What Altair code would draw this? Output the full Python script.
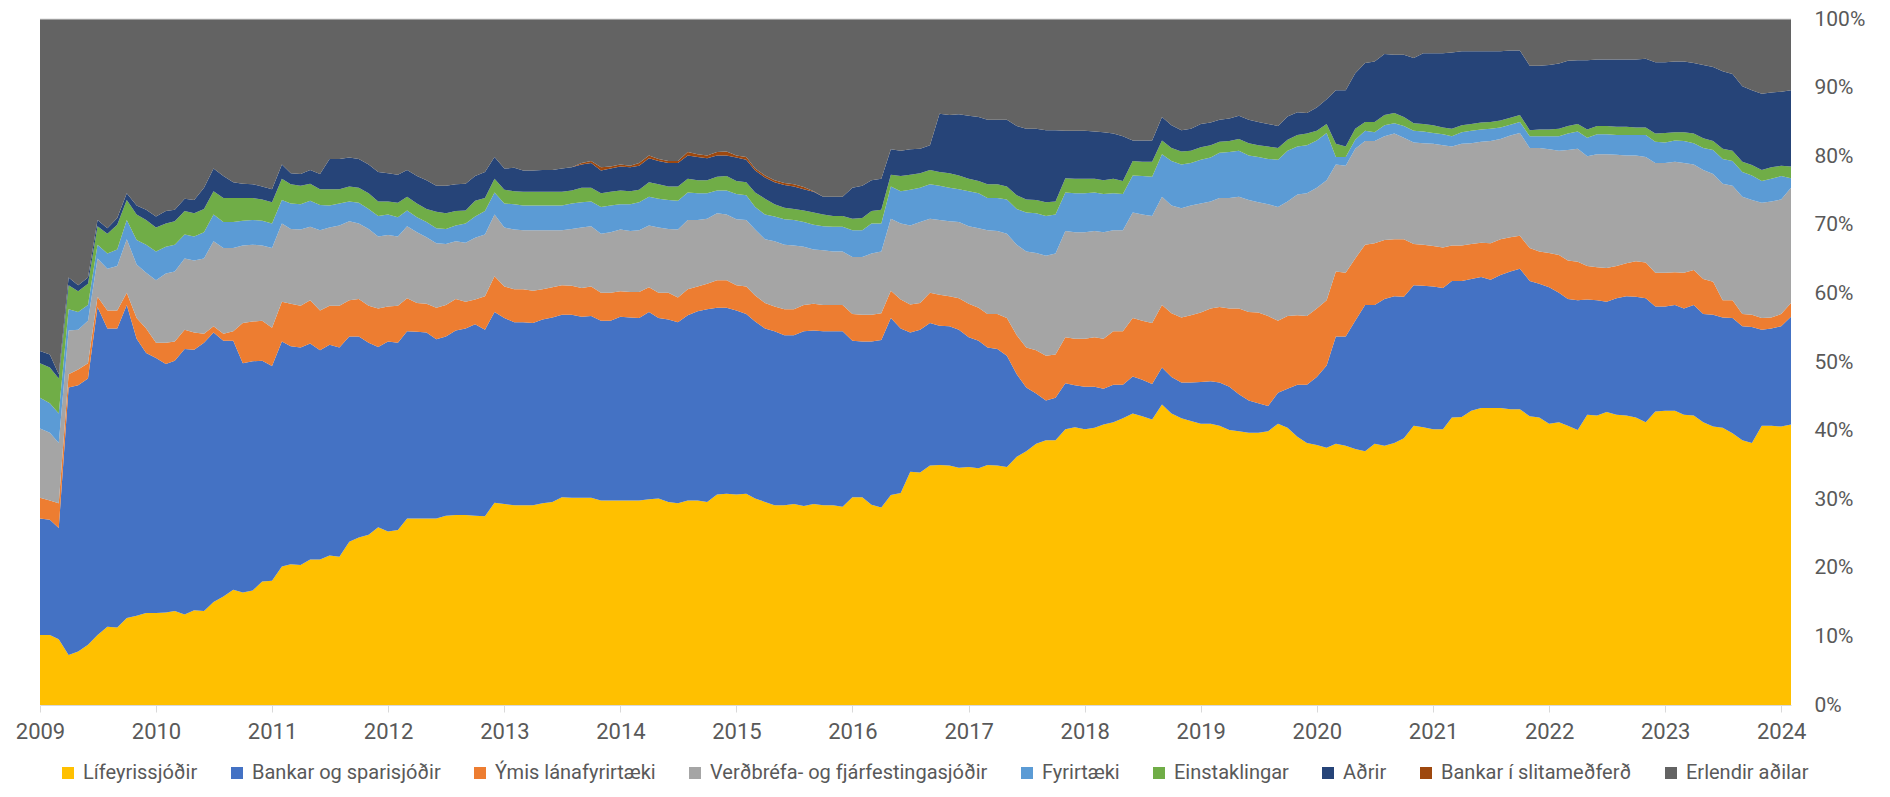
import altair as alt
import numpy as np
import pandas as pd

# ---------------- data (shares of holdings, %, monthly Jan 2009 - Feb 2024) ----------------
series_names = [
    "Lífeyrissjóðir",
    "Bankar og sparisjóðir",
    "Ýmis lánafyrirtæki",
    "Verðbréfa- og fjárfestingasjóðir",
    "Fyrirtæki",
    "Einstaklingar",
    "Aðrir",
    "Bankar í slitameðferð",
    "Erlendir aðilar",
]
series_colors = ["#FFC000", "#4472C4", "#ED7D31", "#A5A5A5", "#5B9BD5",
                 "#70AD47", "#264478", "#9E480E", "#636363"]

n_months = 182
months = pd.date_range("2009-01-01", periods=n_months, freq="MS")

# Cumulative level (top edge of each band, %)
top_lif = [
    10.2, 10.2, 9.6, 7.3, 7.8, 8.8, 10.2, 11.4, 11.3, 12.7, 13.0, 13.4, 13.4, 13.5, 13.7, 13.2, 13.8, 13.7, 15.0, 15.8, 16.8, 16.4, 16.7, 18.0, 18.1, 20.2, 20.5, 20.4, 21.2, 21.2,
    21.8, 21.6, 23.8, 24.4, 24.8, 25.9, 25.3, 25.5, 27.2, 27.2, 27.2, 27.2, 27.6, 27.7, 27.7, 27.6, 27.5, 29.5, 29.3, 29.1, 29.1, 29.1, 29.4, 29.6, 30.3, 30.2, 30.2, 30.2, 29.8, 29.8,
    29.8, 29.8, 29.8, 30.0, 30.1, 29.6, 29.4, 29.8, 29.8, 29.6, 30.7, 30.8, 30.7, 30.8, 30.1, 29.6, 29.1, 29.1, 29.3, 29.0, 29.3, 29.1, 29.1, 28.9, 30.3, 30.3, 29.2, 28.8, 30.6, 30.9,
    34.0, 33.9, 34.9, 35.0, 34.9, 34.6, 34.7, 34.5, 35.0, 34.9, 34.7, 36.2, 37.0, 38.1, 38.6, 38.6, 40.2, 40.5, 40.2, 40.4, 40.9, 41.2, 41.8, 42.5, 42.1, 41.6, 43.8, 42.5, 41.8, 41.4,
    41.0, 41.0, 40.7, 40.1, 39.9, 39.7, 39.7, 39.9, 41.0, 40.4, 39.1, 38.2, 37.9, 37.5, 38.1, 37.8, 37.3, 37.0, 38.1, 37.8, 38.2, 38.9, 40.7, 40.5, 40.2, 40.2, 41.9, 42.0, 42.9, 43.3,
    43.3, 43.3, 43.1, 43.1, 42.1, 41.9, 41.0, 41.2, 40.7, 40.1, 42.3, 42.2, 42.7, 42.3, 42.2, 41.9, 41.2, 42.8, 42.9, 42.9, 42.3, 42.2, 41.2, 40.6, 40.4, 39.6, 38.6, 38.2, 40.7, 40.7, 40.6, 40.9,
]
top_bank = [
    27.2, 27.0, 25.8, 46.3, 46.6, 47.6, 58.0, 54.9, 54.9, 58.3, 53.4, 51.3, 50.6, 49.7, 50.2, 51.9, 51.8, 52.8, 54.3, 53.1, 53.1, 49.8, 50.1, 50.2, 49.4, 53.0, 52.3, 52.1, 52.7, 51.7,
    52.5, 52.1, 53.7, 53.7, 52.8, 52.2, 53.0, 52.8, 54.5, 54.4, 54.3, 53.3, 53.7, 54.6, 54.9, 55.5, 54.7, 57.3, 56.4, 55.8, 55.8, 55.7, 56.2, 56.5, 56.9, 56.9, 56.6, 56.7, 56.0, 56.0,
    56.6, 56.5, 56.4, 57.3, 56.4, 56.2, 55.8, 56.8, 57.4, 57.7, 57.9, 57.9, 57.5, 57.0, 55.9, 54.9, 54.5, 53.9, 53.9, 54.5, 54.6, 54.5, 54.5, 54.5, 53.1, 53.0, 53.0, 53.2, 56.4, 54.9,
    54.3, 54.7, 55.7, 55.3, 55.2, 54.7, 53.6, 53.1, 52.1, 51.9, 50.9, 48.2, 46.3, 45.4, 44.4, 44.8, 46.9, 46.6, 46.4, 46.4, 46.1, 46.7, 46.7, 47.9, 47.4, 46.8, 49.2, 47.8, 47.0, 47.0,
    47.1, 47.2, 47.0, 46.4, 45.3, 44.4, 44.0, 43.6, 45.5, 46.1, 46.7, 46.7, 47.8, 49.5, 53.7, 53.7, 56.0, 58.3, 58.3, 59.2, 59.6, 59.5, 61.2, 61.1, 61.0, 60.8, 61.8, 61.8, 62.1, 62.4,
    62.0, 62.7, 63.2, 63.6, 61.8, 61.4, 60.9, 60.1, 59.2, 59.0, 59.1, 59.0, 58.8, 59.3, 59.6, 59.5, 59.3, 58.1, 58.1, 58.3, 57.8, 58.3, 57.0, 56.9, 56.5, 56.4, 55.2, 55.1, 54.7, 54.9, 55.2, 56.6,
]
top_ymis = [
    30.2, 29.8, 29.4, 48.2, 48.9, 49.8, 59.5, 57.5, 57.5, 60.1, 56.4, 54.9, 52.8, 52.8, 53.0, 54.7, 54.3, 54.1, 55.2, 54.1, 54.5, 55.7, 55.9, 56.0, 55.0, 58.8, 58.5, 58.2, 59.0, 57.5,
    58.2, 58.2, 59.0, 59.2, 58.2, 57.8, 58.1, 58.2, 59.3, 58.6, 58.5, 57.9, 58.3, 59.2, 58.8, 59.1, 59.6, 62.5, 61.0, 60.6, 60.6, 60.4, 60.6, 60.9, 61.2, 61.1, 60.8, 61.0, 60.1, 60.1,
    60.3, 60.2, 60.2, 60.9, 60.1, 60.1, 59.4, 60.6, 61.0, 61.4, 61.9, 61.9, 61.2, 61.0, 59.7, 58.6, 58.1, 57.7, 57.7, 58.3, 58.5, 58.3, 58.3, 58.3, 57.0, 56.9, 56.9, 57.1, 60.4, 59.1,
    58.4, 58.6, 60.1, 59.8, 59.6, 59.3, 58.5, 57.9, 57.0, 57.0, 56.4, 53.9, 52.1, 51.7, 50.9, 51.1, 53.6, 53.4, 53.4, 53.6, 53.4, 54.5, 54.5, 56.4, 56.0, 55.7, 58.3, 57.1, 56.5, 56.8,
    57.2, 57.8, 58.0, 57.8, 57.8, 57.3, 57.2, 56.7, 56.0, 56.7, 56.8, 56.7, 57.8, 59.0, 63.2, 63.0, 65.1, 67.1, 67.3, 67.8, 67.9, 67.9, 67.2, 67.1, 66.9, 66.7, 67.0, 67.0, 67.2, 67.4,
    67.3, 67.9, 68.2, 68.4, 66.6, 66.1, 65.9, 65.6, 64.8, 64.6, 64.0, 63.8, 63.7, 64.0, 64.4, 64.7, 64.5, 63.0, 63.0, 63.1, 63.0, 63.4, 62.1, 61.7, 59.0, 59.0, 57.0, 56.9, 56.4, 56.5, 57.0, 58.6,
]
top_verd = [
    40.3, 39.7, 38.2, 54.6, 54.7, 56.0, 65.1, 63.6, 64.0, 67.9, 64.2, 63.0, 61.9, 62.9, 63.2, 65.1, 64.8, 65.1, 67.6, 66.6, 66.6, 67.0, 67.1, 67.0, 66.6, 70.2, 69.4, 69.3, 69.7, 69.2,
    69.6, 69.9, 70.5, 70.2, 69.4, 68.3, 68.5, 68.3, 69.8, 68.9, 68.2, 67.3, 67.2, 67.6, 67.4, 68.1, 68.6, 71.5, 69.6, 69.3, 69.2, 69.2, 69.2, 69.2, 69.2, 69.4, 69.6, 69.8, 68.7, 68.9,
    69.3, 69.1, 69.2, 69.9, 69.6, 69.4, 69.3, 70.7, 70.7, 70.9, 71.7, 71.5, 70.8, 70.7, 69.3, 67.9, 67.6, 67.1, 67.0, 66.8, 66.4, 66.3, 66.1, 66.1, 65.3, 65.3, 65.8, 66.1, 70.9, 70.2,
    69.9, 70.4, 70.9, 70.7, 70.5, 70.4, 69.8, 69.5, 69.2, 69.1, 68.7, 67.1, 66.1, 65.9, 65.5, 65.8, 69.1, 68.9, 68.9, 69.1, 68.9, 69.2, 69.2, 71.8, 71.5, 71.3, 74.1, 72.8, 72.4, 72.8,
    73.1, 73.4, 73.9, 73.9, 74.1, 73.6, 73.3, 73.0, 72.6, 73.4, 74.4, 74.6, 75.4, 76.5, 78.8, 78.6, 81.1, 82.2, 82.2, 82.9, 83.3, 82.7, 82.0, 81.9, 81.8, 81.6, 81.4, 81.8, 81.9, 82.1,
    82.2, 82.5, 83.0, 83.4, 81.2, 81.2, 81.0, 80.8, 80.9, 81.1, 80.0, 80.3, 80.3, 80.2, 80.1, 80.1, 79.9, 79.0, 79.0, 79.2, 79.0, 78.8, 78.0, 77.4, 76.0, 75.7, 74.1, 73.6, 73.2, 73.4, 73.7, 75.4,
]
top_fyr = [
    44.8, 44.0, 42.5, 57.7, 57.3, 58.3, 67.1, 65.8, 66.4, 70.7, 67.8, 67.1, 66.1, 66.8, 67.1, 68.6, 68.3, 68.9, 71.5, 70.4, 70.4, 70.6, 70.7, 70.6, 70.2, 73.6, 73.1, 73.0, 73.5, 72.9,
    72.8, 73.1, 73.4, 73.2, 72.3, 71.3, 71.5, 71.1, 72.1, 71.1, 70.4, 69.5, 69.4, 69.9, 70.2, 71.2, 72.0, 74.7, 73.1, 73.0, 72.8, 72.8, 72.8, 72.8, 72.8, 73.1, 73.3, 73.4, 72.6, 72.8,
    73.0, 73.0, 73.3, 74.1, 73.8, 73.6, 73.5, 74.7, 74.6, 74.6, 75.0, 75.0, 74.5, 74.3, 72.6, 71.5, 71.2, 70.8, 70.7, 70.4, 70.0, 69.8, 69.7, 69.7, 69.2, 69.2, 70.2, 70.2, 75.6, 74.9,
    75.1, 75.4, 75.9, 75.7, 75.4, 75.2, 74.9, 74.6, 73.9, 73.9, 73.7, 72.3, 71.8, 71.7, 71.3, 71.5, 74.7, 74.6, 74.6, 74.7, 74.5, 74.6, 74.5, 77.2, 77.1, 77.0, 80.3, 79.3, 78.8, 79.0,
    79.5, 79.8, 80.5, 80.6, 80.8, 80.1, 79.9, 79.6, 79.5, 80.8, 81.4, 81.6, 82.3, 83.4, 79.9, 79.9, 82.4, 83.7, 83.5, 84.5, 84.8, 84.4, 83.7, 83.6, 83.4, 83.2, 82.9, 83.5, 83.7, 83.9,
    84.0, 84.2, 84.6, 85.0, 82.9, 82.9, 82.9, 82.9, 83.3, 83.6, 82.7, 83.2, 83.2, 83.1, 83.1, 83.1, 83.1, 82.1, 82.0, 82.3, 82.2, 81.9, 81.2, 80.9, 79.6, 79.3, 77.7, 77.2, 76.4, 76.7, 77.1, 76.8,
]
top_einst = [
    49.8, 49.2, 47.6, 61.2, 60.3, 61.4, 69.8, 68.7, 70.0, 73.6, 71.5, 70.7, 69.6, 70.2, 70.5, 72.0, 71.7, 72.3, 74.9, 73.9, 73.9, 73.9, 73.9, 73.7, 73.3, 76.7, 75.9, 75.7, 76.0, 75.2,
    75.2, 75.2, 75.6, 75.4, 74.6, 73.4, 73.4, 73.2, 74.1, 73.1, 72.3, 71.9, 71.7, 72.0, 72.1, 73.5, 73.9, 76.7, 75.1, 74.9, 74.8, 74.8, 74.8, 74.8, 74.8, 75.0, 75.4, 75.4, 74.6, 74.8,
    75.0, 74.9, 75.1, 76.2, 75.9, 75.6, 75.6, 76.7, 76.5, 76.5, 77.0, 77.1, 76.4, 76.2, 74.7, 73.8, 73.0, 72.5, 72.3, 72.1, 71.8, 71.5, 71.3, 71.3, 70.9, 71.0, 72.0, 72.2, 77.3, 77.1,
    77.3, 77.5, 78.0, 77.7, 77.5, 77.2, 76.7, 76.4, 75.9, 75.9, 75.6, 74.3, 73.7, 73.6, 73.3, 73.4, 76.8, 76.7, 76.7, 76.7, 76.5, 76.7, 76.4, 79.3, 79.2, 79.2, 82.3, 81.2, 80.7, 80.8,
    81.3, 81.6, 82.1, 82.2, 82.5, 81.9, 81.6, 81.4, 81.2, 82.4, 83.1, 83.3, 83.7, 84.7, 81.8, 81.4, 84.0, 85.0, 85.0, 86.0, 86.3, 85.7, 84.8, 84.7, 84.5, 84.2, 84.0, 84.5, 84.7, 84.9,
    85.0, 85.2, 85.6, 86.0, 83.8, 83.9, 83.9, 84.0, 84.4, 84.7, 83.9, 84.4, 84.4, 84.3, 84.3, 84.2, 84.2, 83.3, 83.4, 83.5, 83.5, 83.3, 82.6, 82.2, 81.1, 80.8, 79.2, 78.7, 78.0, 78.4, 78.6, 78.5,
]
top_adrir = [
    51.6, 51.1, 48.2, 62.3, 61.2, 62.3, 70.7, 69.5, 71.0, 74.6, 72.8, 72.2, 71.2, 72.0, 72.2, 73.8, 73.6, 75.4, 78.2, 77.1, 76.2, 76.0, 75.9, 75.6, 75.2, 78.8, 77.5, 77.4, 78.0, 77.4,
    79.6, 79.6, 79.8, 79.6, 78.8, 77.7, 77.5, 77.3, 78.0, 77.1, 76.5, 75.7, 75.7, 75.9, 76.0, 77.1, 77.7, 79.9, 78.2, 78.3, 77.9, 77.9, 78.0, 78.0, 78.2, 78.4, 78.8, 79.0, 77.9, 78.2,
    78.5, 78.4, 78.6, 79.7, 79.3, 79.0, 79.0, 80.1, 79.9, 79.7, 80.1, 80.1, 79.8, 79.5, 77.9, 76.9, 76.2, 75.8, 75.6, 75.2, 74.8, 74.1, 74.1, 74.1, 75.4, 75.7, 76.5, 76.7, 81.0, 80.8,
    81.0, 81.1, 81.6, 86.2, 86.0, 86.1, 85.9, 85.7, 85.3, 85.3, 85.3, 84.4, 84.0, 84.0, 83.8, 83.8, 83.7, 83.7, 83.7, 83.6, 83.5, 83.3, 82.9, 82.3, 82.3, 82.3, 85.7, 84.5, 83.8, 84.0,
    84.7, 84.9, 85.3, 85.5, 85.9, 85.3, 85.0, 84.7, 84.4, 85.8, 86.4, 86.3, 87.1, 88.3, 89.6, 89.6, 92.1, 93.6, 93.8, 94.9, 94.8, 94.8, 94.3, 95.0, 95.0, 95.0, 95.1, 95.3, 95.3, 95.3,
    95.3, 95.3, 95.4, 95.4, 93.2, 93.2, 93.3, 93.5, 93.9, 94.0, 94.0, 94.1, 94.1, 94.1, 94.1, 94.1, 94.2, 93.7, 93.7, 93.8, 93.8, 93.6, 93.3, 93.0, 92.4, 92.0, 90.2, 89.6, 89.1, 89.3, 89.4, 89.6,
]
# Bankar í slitameðferð: share (%) from Sep 2013 (month index 56) to Oct 2015, zero otherwise
slit_start = 56
slit_vals = [0.2, 0.3, 0.5, 0.3, 0.3, 0.2, 0.4, 0.4, 0.3, 0.3, 0.3, 0.5, 0.4,
             0.4, 0.5, 0.6, 0.3, 0.4, 0.3, 0.3, 0.3, 0.3, 0.3, 0.3, 0.1, 0.0]

# ---------------- build long table of shares ----------------
tops = np.array([top_lif, top_bank, top_ymis, top_verd, top_fyr, top_einst, top_adrir], dtype=float)
assert tops.shape == (7, n_months), tops.shape
lower = np.vstack([np.zeros(n_months), tops[:-1]])
shares = np.clip(tops - lower, 0, None)
slit = np.zeros(n_months)
slit[slit_start:slit_start + len(slit_vals)] = slit_vals
erl = np.clip(100.0 - tops[-1] - slit, 0, None)
all_shares = list(shares) + [slit, erl]

rows = []
for i, (name, vals) in enumerate(zip(series_names, all_shares)):
    for d, v in zip(months, vals):
        rows.append({"date": d, "series": name, "value": round(float(v), 3), "ord": i})
df = pd.DataFrame(rows)

# ---------------- chart ----------------
font = "Roboto"
text_color = "#595959"
axis_gray = "#d9d9d9"

area = alt.Chart(df).mark_area(interpolate="linear").encode(
    x=alt.X(
        "date:T",
        title=None,
        scale=alt.Scale(
            domain=[alt.DateTime(year=2009, month=1, date=1),
                    alt.DateTime(year=2024, month=2, date=1)],
            nice=False,
        ),
        axis=alt.Axis(
            format="%Y",
            tickCount={"interval": "year", "step": 1},
            labelAngle=0,
            grid=False,
            domainColor=axis_gray,
            tickColor=axis_gray,
            tickSize=7,
            labelFontSize=22,
            labelFont=font,
            labelColor=text_color,
            labelPadding=9,
            labelFlush=False,
            labelOverlap=False,
        ),
    ),
    y=alt.Y(
        "value:Q",
        stack="zero",
        title=None,
        scale=alt.Scale(domain=[0, 100], nice=False),
        axis=alt.Axis(
            orient="right",
            values=list(range(0, 101, 10)),
            labelExpr="datum.value + '%'",
            domain=False,
            ticks=False,
            grid=False,
            labelPadding=23,
            labelFontSize=21,
            labelFont=font,
            labelColor=text_color,
        ),
    ),
    color=alt.Color(
        "series:N",
        scale=alt.Scale(domain=series_names, range=series_colors),
        legend=alt.Legend(
            title=None,
            orient="none",
            legendX=18,
            legendY=744,
            direction="horizontal",
            symbolType="square",
            symbolSize=144,
            symbolStrokeWidth=0,
            labelFontSize=20,
            labelFont=font,
            labelColor=text_color,
            labelOffset=5,
            columnPadding=29,
            labelLimit=600,
        ),
    ),
    order=alt.Order("ord:Q", sort="ascending"),
)

top_line = alt.Chart(pd.DataFrame({"lvl": [100]})).mark_rule(
    color=axis_gray, strokeWidth=1
).encode(y=alt.value(0))

chart = (
    alt.layer(area, top_line)
    .properties(
        width=1751,
        height=686,
        padding={"left": 32, "top": 11, "right": 85, "bottom": 79},
        autosize=alt.AutoSizeParams(type="none"),
        background="white",
    )
    .configure_view(stroke=None)
)

chart.save("out.html", embed_options={"renderer": "svg", "actions": False})
